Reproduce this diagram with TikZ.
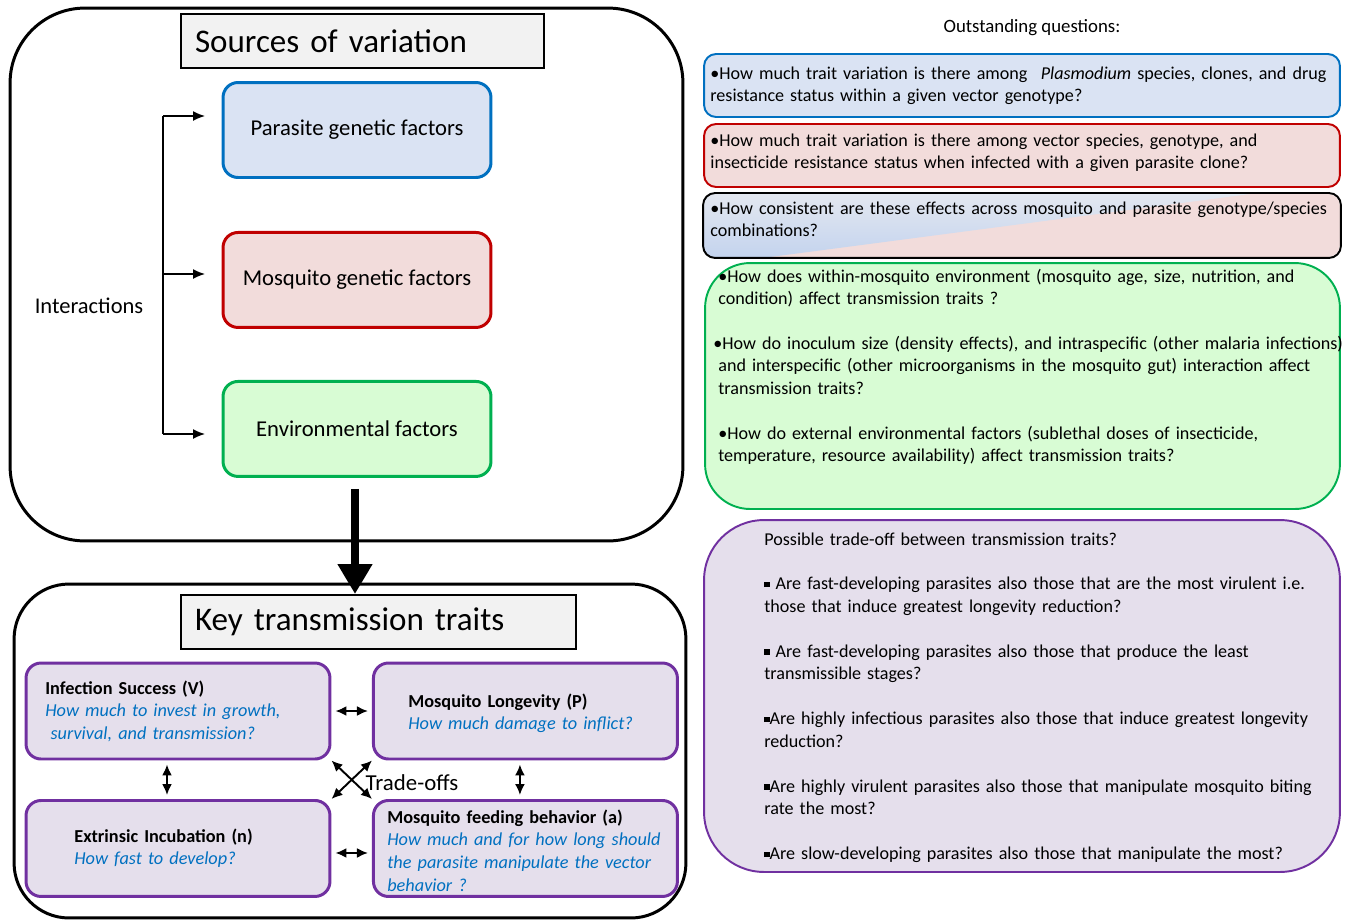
\documentclass[tikz,border=0pt]{standalone}
\usepackage{fontspec}
\setmainfont{Carlito}
\usepackage{tikz}
\usetikzlibrary{positioning,arrows.meta}
\definecolor{blueline}{HTML}{0070C0}
\definecolor{bluefill}{HTML}{DAE3F3}
\definecolor{redline}{HTML}{C00000}
\definecolor{redfill}{HTML}{F2DCDB}
\definecolor{greenline}{HTML}{00B050}
\definecolor{greenfill}{HTML}{D8FCD4}
\definecolor{purpleline}{HTML}{7030A0}
\definecolor{purplefill}{HTML}{E5DFEC}
\definecolor{titlefill}{HTML}{F2F2F2}
\definecolor{mixblue}{HTML}{C3D3EE}
\definecolor{mixlight}{HTML}{E4E8F0}
\newcommand{\sqbul}{\rule[1.6pt]{3pt}{3pt}}
\newcommand{\qa}{\color{blueline}\itshape}
\tikzstyle{frame}=[draw, line width=1.7pt, inner sep=0pt]
\tikzstyle{heading}=[draw, fill=titlefill, line width=1.1pt, minimum height=1.08cm, inner xsep=0.28cm, align=left, font=\fontsize{18.8}{21}\selectfont]
\tikzstyle{factor}=[draw, rounded corners=0.3cm, line width=1.7pt, minimum width=5.36cm, minimum height=1.9cm, font=\fontsize{12.9}{15}\selectfont]
\tikzstyle{trait}=[draw=purpleline, fill=purplefill, rounded corners=0.3cm, line width=1.7pt, minimum width=6.08cm, minimum height=1.92cm]
\tikzstyle{qbox}=[line width=1.1pt, minimum width=12.72cm, minimum height=1.26cm, rounded corners=0.24cm]
\tikzstyle{qtext}=[anchor=base west, inner sep=0pt, text width=14cm, align=left, font=\fontsize{10.3}{12.8}\selectfont]
\tikzstyle{ttext}=[anchor=base west, inner sep=0pt, text width=6.8cm, align=left, font=\fontsize{10.4}{12.9}\selectfont]
\tikzstyle{dbl}=[{Latex[length=2.2mm,width=2mm]}-{Latex[length=2.2mm,width=2mm]}, line width=1.1pt]
\tikzstyle{interarrow}=[-{Latex[length=2.4mm,width=2mm]}, line width=0.8pt]
\tikzstyle{bigarrow}=[-{Triangle[length=0.6cm,width=0.66cm]}, line width=5pt]

\begin{document}
\begin{tikzpicture}[x=0.02cm, y=-0.02cm, node distance=3cm, auto]
\useasboundingbox (0,0) rectangle (1347,921);

% sources of variation
\node[frame, rounded corners=1.5cm, minimum width=13.46cm, minimum height=10.66cm] at (346.5,274.5) (srcframe) {};
\node[heading, text width=6.7cm] at (362.5,41) (srctitle) {Sources of variation};
\node[factor, draw=blueline, fill=bluefill] at (357,130) (parasite) {Parasite genetic factors};
\node[factor, draw=redline, fill=redfill, below of = parasite, node distance = 3cm] (mosq) {Mosquito genetic factors};
\node[factor, draw=greenline, fill=greenfill, below of = mosq, node distance = 2.98cm] (env) {Environmental factors};

\node[font=\fontsize{12.8}{15}\selectfont] at (89,306) (interact) {Interactions};
\coordinate (itop) at (163,116);
\coordinate (imid) at (163,274);
\coordinate (ibot) at (163,434);
\coordinate (ipar) at (205,116);
\coordinate (imos) at (205,274);
\coordinate (ienv) at (205,434);
\draw[line width=0.8pt] (itop) -- (ibot);
\draw[interarrow] (itop) -- (ipar);
\draw[interarrow] (imid) -- (imos);
\draw[interarrow] (ibot) -- (ienv);

% key transmission traits
\node[frame, rounded corners=1.1cm, minimum width=13.44cm, minimum height=6.68cm] at (350,751) (keyframe) {};
\node[heading, text width=7.34cm] at (378.5,622) (keytitle) {Key transmission traits};

\node[trait] at (178,711) (infect) {};
\node[trait, right of = infect, node distance = 6.95cm] (longev) {};
\node[trait, below of = infect, node distance = 2.75cm] (extrinsic) {};
\node[trait, right of = extrinsic, node distance = 6.95cm] (feeding) {};

\node[ttext] at (45,694) (infecttxt) {\textbf{Infection Success (V)}\\{\qa How much to invest in growth,}\\{\qa\hspace*{3pt}survival, and transmission?}};
\node[ttext] at (408,707) (longevtxt) {\textbf{Mosquito Longevity (P)}\\{\qa How much damage to inflict?}};
\node[ttext] at (74,842) (extrtxt) {\textbf{Extrinsic Incubation (n)}\\{\qa How fast to develop?}};
\node[ttext] at (387,823) (feedtxt) {\textbf{Mosquito feeding behavior (a)}\\{\qa How much and for how long should}\\{\qa the parasite manipulate the vector}\\{\qa behavior ?}};

\draw[dbl] ([xshift=0.08cm]infect.east) -- ([xshift=-0.08cm]longev.west);
\draw[dbl] ([xshift=0.08cm,yshift=-0.09cm]extrinsic.east) -- ([xshift=-0.08cm,yshift=-0.09cm]feeding.west);
\draw[dbl] ([xshift=-0.22cm,yshift=-0.08cm]infect.south) -- ([xshift=-0.22cm,yshift=0.08cm]extrinsic.north);
\draw[dbl] ([xshift=-0.11cm,yshift=-0.08cm]longev.south) -- ([xshift=-0.11cm,yshift=0.08cm]feeding.north);
\draw[dbl] (infect.south east) -- (feeding.north west);
\draw[dbl] (longev.south west) -- (extrinsic.north east);
\node[font=\fontsize{13}{15}\selectfont] at (412,783) (tradeoff) {Trade-offs};

\draw[bigarrow] ([xshift=-0.04cm,yshift=-0.22cm]env.south) -- ([xshift=-0.04cm]env.south |- keytitle.north);

% outstanding questions
\node[font=\fontsize{10.7}{12}\selectfont] at (1032,28) (outq) {Outstanding questions:};
\node[qbox, draw=blueline, fill=bluefill] at (1022,85.5) (qparasite) {};
\node[qbox, draw=redline, fill=redfill, below of = qparasite, node distance = 1.4cm] (qmosq) {};
\node[qbox, fill=redfill, below of = qmosq, node distance = 1.4cm] (qcombo) {};
\begin{scope}
\clip[rounded corners=0.24cm] (qcombo.north west) rectangle (qcombo.south east);
\shade[top color=mixlight, bottom color=mixblue] (qcombo.north west) -- (1250,194) -- (770,257) -- (qcombo.south west) -- cycle;
\end{scope}
\draw[line width=1.1pt, rounded corners=0.24cm] (qcombo.north west) rectangle (qcombo.south east);
\node[qbox, draw=greenline, fill=greenfill, rounded corners=0.9cm, minimum width=12.7cm, minimum height=4.92cm] at (1022.5,386) (qenv) {};
\node[qbox, draw=purpleline, fill=purplefill, rounded corners=1.2cm, minimum height=7.04cm] at (1022,696) (qtrade) {};

\node[qtext] at (710,79) (qparasitetxt) {\textbullet How much trait variation is there among\hspace{0.4em} \textit{Plasmodium} species, clones, and drug\\resistance status within a given vector genotype?};
\node[qtext] at (710,146) (qmosqtxt) {\textbullet How much trait variation is there among vector species, genotype, and\\insecticide resistance status when infected with a given parasite clone?};
\node[qtext] at (710,214) (qcombotxt) {\textbullet How consistent are these effects across mosquito and parasite genotype/species\\combinations?};
\node[qtext] at (718,282) (qenvtxt) {\textbullet How does within-mosquito environment (mosquito age, size, nutrition, and\\condition) affect transmission traits ?\\[12.8pt]
\hspace*{-0.1cm}\textbullet How do inoculum size (density effects), and intraspecific (other malaria infections)\\and interspecific (other microorganisms in the mosquito gut) interaction affect\\transmission traits?\\[12.8pt]
\textbullet How do external environmental factors (sublethal doses of insecticide,\\temperature, resource availability) affect transmission traits?};
\node[qtext] at (764,545) (qtradetxt) {Possible trade-off between transmission traits?\\[12.8pt]
\sqbul\ Are fast-developing parasites also those that are the most virulent i.e.\\those that induce greatest longevity reduction?\\[12.8pt]
\sqbul\ Are fast-developing parasites also those that produce the least\\transmissible stages?\\[12.8pt]
\sqbul Are highly infectious parasites also those that induce greatest longevity\\reduction?\\[12.8pt]
\sqbul Are highly virulent parasites also those that manipulate mosquito biting\\rate the most?\\[12.8pt]
\sqbul Are slow-developing parasites also those that manipulate the most?};
\end{tikzpicture}
\end{document}
